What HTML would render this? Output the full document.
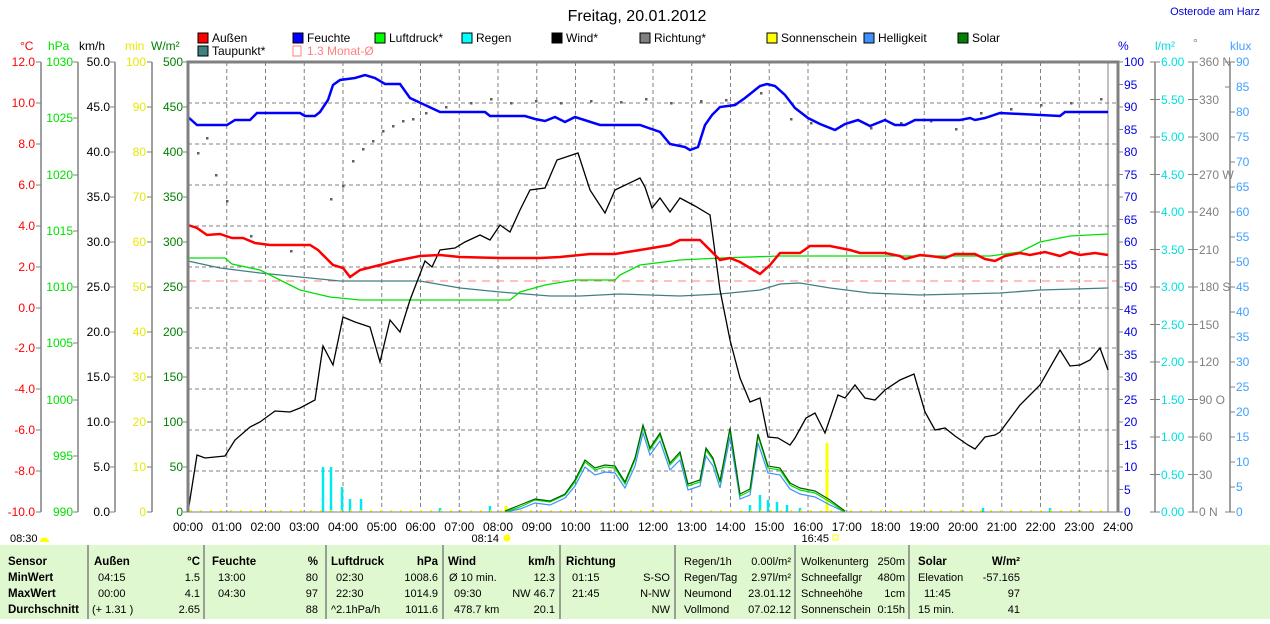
<!DOCTYPE html>
<html><head><meta charset="utf-8"><style>
body{margin:0;background:#fff;width:1270px;height:619px;overflow:hidden;font-family:"Liberation Sans",sans-serif}
svg text{font-family:"Liberation Sans",sans-serif}
</style></head><body>
<svg width="1270" height="619" viewBox="0 0 1270 619" xmlns="http://www.w3.org/2000/svg">
<rect width="1270" height="619" fill="#fff"/>
<text x="637" y="21" font-size="16" text-anchor="middle" fill="#000">Freitag, 20.01.2012</text>
<text x="1215" y="15" font-size="11" text-anchor="middle" fill="#0000e0">Osterode am Harz</text>
<g font-size="12">
<rect x="198" y="33" width="10" height="10" fill="#f00" stroke="#000"/><text x="212" y="42">Außen</text>
<rect x="293" y="33" width="10" height="10" fill="#00f" stroke="#000"/><text x="307" y="42">Feuchte</text>
<rect x="375" y="33" width="10" height="10" fill="#0f0" stroke="#000"/><text x="389" y="42">Luftdruck*</text>
<rect x="462" y="33" width="10" height="10" fill="#0ff" stroke="#000"/><text x="476" y="42">Regen</text>
<rect x="552" y="33" width="10" height="10" fill="#000" stroke="#000"/><text x="566" y="42">Wind*</text>
<rect x="640" y="33" width="10" height="10" fill="#808080" stroke="#000"/><text x="654" y="42">Richtung*</text>
<rect x="767" y="33" width="10" height="10" fill="#ff0" stroke="#000"/><text x="781" y="42">Sonnenschein</text>
<rect x="864" y="33" width="10" height="10" fill="#4090ff" stroke="#000"/><text x="878" y="42">Helligkeit</text>
<rect x="958" y="33" width="10" height="10" fill="#008000" stroke="#000"/><text x="972" y="42">Solar</text>
<rect x="198" y="46" width="10" height="10" fill="#408080" stroke="#000"/><text x="212" y="55">Taupunkt*</text>
<rect x="293" y="46" width="8" height="10" fill="none" stroke="#ff8080"/><text x="307" y="55" fill="#ff8080">1.3 Monat-Ø</text>
</g>
<g font-size="12">
<text x="20" y="50" fill="#f00">°C</text>
<text x="48" y="50" fill="#00e000">hPa</text>
<text x="79" y="50" fill="#000">km/h</text>
<text x="125" y="50" fill="#e8e800">min</text>
<text x="151" y="50" fill="#008000">W/m²</text>
<text x="1118" y="50" fill="#0000e0">%</text>
<text x="1155" y="50" fill="#00e0e0">l/m²</text>
<text x="1193" y="47" fill="#808080">°</text>
<text x="1230" y="50" fill="#40a0ff">klux</text>
</g>
<g stroke="#808080" stroke-width="1.5">
<line x1="41" y1="62" x2="41" y2="512"/><line x1="78" y1="62" x2="78" y2="512"/>
<line x1="115" y1="62" x2="115" y2="512"/><line x1="152" y1="62" x2="152" y2="512"/>
<line x1="1155" y1="62" x2="1155" y2="512"/><line x1="1193" y1="62" x2="1193" y2="512"/>
<line x1="1230" y1="62" x2="1230" y2="512"/>
</g>
<g font-size="12" fill="#f00" text-anchor="end">
<text x="35" y="66">12.0</text><text x="35" y="107">10.0</text><text x="35" y="148">8.0</text><text x="35" y="189">6.0</text><text x="35" y="230">4.0</text><text x="35" y="271">2.0</text><text x="35" y="312">0.0</text><text x="35" y="352">-2.0</text><text x="35" y="393">-4.0</text><text x="35" y="434">-6.0</text><text x="35" y="475">-8.0</text><text x="35" y="516">-10.0</text>
</g>
<g font-size="12" fill="#00e000" text-anchor="end">
<text x="73" y="66">1030</text><text x="73" y="122">1025</text><text x="73" y="179">1020</text><text x="73" y="235">1015</text><text x="73" y="291">1010</text><text x="73" y="347">1005</text><text x="73" y="404">1000</text><text x="73" y="460">995</text><text x="73" y="516">990</text>
</g>
<g font-size="12" fill="#000" text-anchor="end">
<text x="110" y="66">50.0</text><text x="110" y="111">45.0</text><text x="110" y="156">40.0</text><text x="110" y="201">35.0</text><text x="110" y="246">30.0</text><text x="110" y="291">25.0</text><text x="110" y="336">20.0</text><text x="110" y="381">15.0</text><text x="110" y="426">10.0</text><text x="110" y="471">5.0</text><text x="110" y="516">0.0</text>
</g>
<g font-size="12" fill="#e8e800" text-anchor="end">
<text x="146" y="66">100</text><text x="146" y="111">90</text><text x="146" y="156">80</text><text x="146" y="201">70</text><text x="146" y="246">60</text><text x="146" y="291">50</text><text x="146" y="336">40</text><text x="146" y="381">30</text><text x="146" y="426">20</text><text x="146" y="471">10</text><text x="146" y="516">0</text>
</g>
<g font-size="12" fill="#008000" text-anchor="end">
<text x="183" y="66">500</text><text x="183" y="111">450</text><text x="183" y="156">400</text><text x="183" y="201">350</text><text x="183" y="246">300</text><text x="183" y="291">250</text><text x="183" y="336">200</text><text x="183" y="381">150</text><text x="183" y="426">100</text><text x="183" y="471">50</text><text x="183" y="516">0</text>
</g>
<g stroke="#808080">
<path d="M36 62h5M36 103h5M36 144h5M36 185h5M36 226h5M36 267h5M36 308h5M36 348h5M36 389h5M36 430h5M36 471h5M36 512h5"/>
<path d="M73 62h5M73 118h5M73 175h5M73 231h5M73 287h5M73 343h5M73 400h5M73 456h5M73 512h5"/>
<path d="M110 62h5M110 107h5M110 152h5M110 197h5M110 242h5M110 287h5M110 332h5M110 377h5M110 422h5M110 467h5M110 512h5"/>
<path d="M147 62h5M147 107h5M147 152h5M147 197h5M147 242h5M147 287h5M147 332h5M147 377h5M147 422h5M147 467h5M147 512h5"/>
<path d="M183 62h5M183 107h5M183 152h5M183 197h5M183 242h5M183 287h5M183 332h5M183 377h5M183 422h5M183 467h5M183 512h5"/>
</g>
<g stroke="#808080"><path d="M1118 62h5M1118 84.5h5M1118 107h5M1118 129.5h5M1118 152h5M1118 174.5h5M1118 197h5M1118 219.5h5M1118 242h5M1118 264.5h5M1118 287h5M1118 309.5h5M1118 332h5M1118 354.5h5M1118 377h5M1118 399.5h5M1118 422h5M1118 444.5h5M1118 467h5M1118 489.5h5M1118 512h5"/>
<path d="M1150 62h10M1150 99.5h10M1150 137h10M1150 174.5h10M1150 212h10M1150 249.5h10M1150 287h10M1150 324.5h10M1150 362h10M1150 399.5h10M1150 437h10M1150 474.5h10M1150 512h10"/>
<path d="M1188 62h10M1188 99.5h10M1188 137h10M1188 174.5h10M1188 212h10M1188 249.5h10M1188 287h10M1188 324.5h10M1188 362h10M1188 399.5h10M1188 437h10M1188 474.5h10M1188 512h10"/>
<path d="M1225 62h10M1225 87h5M1230 112h5M1230 137h5M1230 162h5M1230 187h5M1230 212h5M1230 237h5M1230 262h5M1230 287h5M1230 312h5M1230 337h5M1230 362h5M1230 387h5M1230 412h5M1230 437h5M1230 462h5M1230 487h5M1225 512h10"/></g>
<g font-size="12" fill="#0000e0">
<text x="1124" y="66">100</text><text x="1124" y="89">95</text><text x="1124" y="111">90</text><text x="1124" y="134">85</text><text x="1124" y="156">80</text><text x="1124" y="179">75</text><text x="1124" y="201">70</text><text x="1124" y="224">65</text><text x="1124" y="246">60</text><text x="1124" y="269">55</text><text x="1124" y="291">50</text><text x="1124" y="314">45</text><text x="1124" y="336">40</text><text x="1124" y="359">35</text><text x="1124" y="381">30</text><text x="1124" y="404">25</text><text x="1124" y="426">20</text><text x="1124" y="449">15</text><text x="1124" y="471">10</text><text x="1124" y="494">5</text><text x="1124" y="516">0</text>
</g>
<g font-size="12" fill="#00e0e0">
<text x="1161" y="66">6.00</text><text x="1161" y="104">5.50</text><text x="1161" y="141">5.00</text><text x="1161" y="179">4.50</text><text x="1161" y="216">4.00</text><text x="1161" y="254">3.50</text><text x="1161" y="291">3.00</text><text x="1161" y="329">2.50</text><text x="1161" y="366">2.00</text><text x="1161" y="404">1.50</text><text x="1161" y="441">1.00</text><text x="1161" y="479">0.50</text><text x="1161" y="516">0.00</text>
</g>
<g font-size="12" fill="#808080">
<text x="1199" y="66">360 N</text><text x="1199" y="104">330</text><text x="1199" y="141">300</text><text x="1199" y="179">270 W</text><text x="1199" y="216">240</text><text x="1199" y="254">210</text><text x="1199" y="291">180 S</text><text x="1199" y="329">150</text><text x="1199" y="366">120</text><text x="1199" y="404">90  O</text><text x="1199" y="441">60</text><text x="1199" y="479">30</text><text x="1199" y="516">0   N</text>
</g>
<g font-size="12" fill="#40a0ff">
<text x="1236" y="66">90</text><text x="1236" y="91">85</text><text x="1236" y="116">80</text><text x="1236" y="141">75</text><text x="1236" y="166">70</text><text x="1236" y="191">65</text><text x="1236" y="216">60</text><text x="1236" y="241">55</text><text x="1236" y="266">50</text><text x="1236" y="291">45</text><text x="1236" y="316">40</text><text x="1236" y="341">35</text><text x="1236" y="366">30</text><text x="1236" y="391">25</text><text x="1236" y="416">20</text><text x="1236" y="441">15</text><text x="1236" y="466">10</text><text x="1236" y="491">5</text><text x="1236" y="516">0</text>
</g>
<g stroke="#808080" stroke-dasharray="4,3">
<path d="M188 103H1118M188 144H1118M188 185H1118M188 226H1118M188 267H1118M188 308H1118M188 348H1118M188 389H1118M188 430H1118M188 471H1118"/>
<path d="M226.75 62V512M265.5 62V512M304.25 62V512M343 62V512M381.75 62V512M420.5 62V512M459.25 62V512M498 62V512M536.75 62V512M575.5 62V512M614.25 62V512M653 62V512M691.75 62V512M730.5 62V512M769.25 62V512M808 62V512M846.75 62V512M885.5 62V512M924.25 62V512M963 62V512M1001.75 62V512M1040.5 62V512M1079.25 62V512"/>
</g>
<line x1="188" y1="281" x2="1118" y2="281" stroke="#ff8080" stroke-dasharray="8,6"/>
<line x1="1108" y1="62" x2="1108" y2="512" stroke="#808080"/>
<g stroke="#00e8f0" stroke-width="2.5">
<path d="M323 512V467M331 512V467M342 512V487M350 512V499M361 512V499M440 512V508M490 512V506M750 512V505M760 512V495M768 512V500M777 512V502M787 512V505M800 512V508M983 512V508M1050 512V508"/>
</g>
<line x1="827" y1="512" x2="827" y2="443" stroke="#ff0" stroke-width="3"/>
<line x1="506" y1="512" x2="506" y2="506" stroke="#ff0" stroke-width="3"/>
<line x1="190" y1="511" x2="1108" y2="511" stroke="#ff0" stroke-width="2" stroke-dasharray="2,8"/>
<g fill="#606060">
<rect x="197" y="152" width="2.5" height="2.5"/><rect x="206" y="137" width="2.5" height="2.5"/><rect x="215" y="174" width="2.5" height="2.5"/><rect x="226" y="200" width="2.5" height="2.5"/><rect x="250" y="235" width="2.5" height="2.5"/><rect x="290" y="250" width="2.5" height="2.5"/><rect x="330" y="198" width="2.5" height="2.5"/><rect x="342" y="185" width="2.5" height="2.5"/><rect x="352" y="160" width="2.5" height="2.5"/><rect x="362" y="148" width="2.5" height="2.5"/><rect x="372" y="140" width="2.5" height="2.5"/><rect x="382" y="130" width="2.5" height="2.5"/><rect x="392" y="125" width="2.5" height="2.5"/><rect x="402" y="120" width="2.5" height="2.5"/><rect x="412" y="118" width="2.5" height="2.5"/><rect x="425" y="112" width="2.5" height="2.5"/><rect x="445" y="106" width="2.5" height="2.5"/><rect x="470" y="102" width="2.5" height="2.5"/><rect x="490" y="98" width="2.5" height="2.5"/><rect x="510" y="102" width="2.5" height="2.5"/><rect x="535" y="100" width="2.5" height="2.5"/><rect x="560" y="102" width="2.5" height="2.5"/><rect x="590" y="100" width="2.5" height="2.5"/><rect x="620" y="101" width="2.5" height="2.5"/><rect x="645" y="98" width="2.5" height="2.5"/><rect x="670" y="102" width="2.5" height="2.5"/><rect x="700" y="100" width="2.5" height="2.5"/><rect x="725" y="99" width="2.5" height="2.5"/><rect x="760" y="92" width="2.5" height="2.5"/><rect x="790" y="118" width="2.5" height="2.5"/><rect x="810" y="122" width="2.5" height="2.5"/><rect x="840" y="125" width="2.5" height="2.5"/><rect x="870" y="127" width="2.5" height="2.5"/><rect x="900" y="122" width="2.5" height="2.5"/><rect x="930" y="120" width="2.5" height="2.5"/><rect x="955" y="128" width="2.5" height="2.5"/><rect x="980" y="112" width="2.5" height="2.5"/><rect x="1010" y="108" width="2.5" height="2.5"/><rect x="1040" y="104" width="2.5" height="2.5"/><rect x="1070" y="102" width="2.5" height="2.5"/><rect x="1100" y="98" width="2.5" height="2.5"/>
</g>
<polyline fill="none" stroke="#408080" stroke-width="1.3" points="188,261 220,268 260,273 300,277 340,281 380,281 420,281 460,288 500,292 550,296 580,296 620,294 680,296 720,294 760,290 780,284 800,283 830,288 870,293 920,295 1000,293 1040,290 1108,288"/>
<polyline fill="none" stroke="#00e000" stroke-width="1.3" points="188,258 225,258 232,264 260,270 280,280 300,290 330,297 360,300 400,300 510,300 520,292 545,285 575,280 615,280 620,275 640,265 680,260 720,258 780,256 990,256 1020,252 1040,242 1070,236 1108,234"/>
<polyline fill="none" stroke="#4090ff" stroke-width="1.2" points="505,512 520,509 535,503 550,505 565,498 575,486 585,467 595,475 605,472 615,473 625,488 635,466 643,433 650,455 660,441 670,470 680,460 688,490 700,486 706,456 713,466 720,488 730,437 740,499 750,495 758,443 768,473 780,475 790,489 800,494 815,497 830,505 845,512"/>
<polyline fill="none" stroke="#00e000" stroke-width="1.2" points="505,512 520,507 535,500 550,502 565,495 575,482 585,462 595,470 605,467 615,468 625,484 635,460 643,427 650,450 660,435 670,465 680,454 688,486 700,482 706,450 713,460 720,483 730,430 740,496 750,491 758,436 768,468 780,470 790,485 800,490 815,493 830,502 845,512"/>
<polyline fill="none" stroke="#006000" stroke-width="1.2" points="505,511 520,505 535,499 550,501 565,494 575,480 585,460 595,468 605,465 615,466 625,482 635,458 643,425 650,448 660,433 670,463 680,452 688,484 700,480 706,448 713,458 720,481 730,428 740,494 750,489 758,434 768,466 780,468 790,483 800,488 815,491 830,500 845,511"/>
<polyline fill="none" stroke="#000" stroke-width="1.3" points="188,512 197,455 205,458 215,457 225,456 235,440 250,427 260,422 275,411 290,412 300,408 315,400 323,346 333,365 343,317 355,322 370,327 380,362 390,320 400,332 410,300 425,261 432,267 440,250 455,248 465,242 480,235 490,240 500,225 510,232 520,210 530,190 545,188 557,160 578,153 590,190 605,213 615,190 640,178 645,187 652,208 660,198 670,212 680,198 695,206 710,215 720,290 730,340 740,378 750,402 760,398 768,437 778,438 790,445 795,438 806,418 815,413 825,433 838,395 845,398 855,385 865,398 875,400 885,390 900,380 914,374 925,412 935,430 945,428 955,436 968,445 975,449 985,437 995,435 1000,432 1020,405 1040,385 1060,350 1070,366 1080,365 1090,360 1100,348 1108,370"/>
<polyline fill="none" stroke="#f00" stroke-width="2.5" points="188,225 197,228 207,235 220,234 232,238 243,238 255,243 270,245 310,245 318,250 333,265 343,268 350,277 360,270 380,265 395,261 410,258 420,256 440,255 460,257 500,258 540,258 560,257 590,254 615,254 640,250 670,245 680,240 700,240 720,260 730,258 740,262 750,268 760,274 770,265 780,253 800,253 810,246 830,246 850,250 860,253 885,253 900,256 905,259 920,255 930,256 945,258 955,254 975,254 985,259 995,261 1005,256 1020,253 1030,255 1045,252 1060,256 1070,252 1080,255 1095,253 1108,255"/>
<polyline fill="none" stroke="#00f" stroke-width="2.5" points="188,117 197,125 227,125 235,120 250,120 257,113 300,113 305,116 315,116 320,112 328,100 333,85 340,80 355,78 365,75 375,78 385,84 400,84 410,98 425,105 440,112 485,112 490,116 525,116 535,119 545,121 555,117 565,122 575,117 600,125 640,125 660,132 670,144 685,147 690,150 698,147 705,125 712,115 720,107 735,105 745,98 760,86 767,84 775,86 785,95 795,108 808,118 820,124 835,130 845,124 858,120 870,126 885,120 895,125 905,125 915,120 960,120 970,118 975,120 985,118 1000,113 1060,116 1065,112 1108,112"/>
<path d="M188 512V62H1118V512" fill="none" stroke="#808080" stroke-width="3"/>
<line x1="188" y1="512" x2="1118" y2="512" stroke="#808080" stroke-width="1"/>
<g font-size="12" text-anchor="middle">
<text x="188" y="531">00:00</text><text x="226.75" y="531">01:00</text><text x="265.5" y="531">02:00</text><text x="304.25" y="531">03:00</text><text x="343" y="531">04:00</text><text x="381.75" y="531">05:00</text><text x="420.5" y="531">06:00</text><text x="459.25" y="531">07:00</text><text x="498" y="531">08:00</text><text x="536.75" y="531">09:00</text><text x="575.5" y="531">10:00</text><text x="614.25" y="531">11:00</text><text x="653" y="531">12:00</text><text x="691.75" y="531">13:00</text><text x="730.5" y="531">14:00</text><text x="769.25" y="531">15:00</text><text x="808" y="531">16:00</text><text x="846.75" y="531">17:00</text><text x="885.5" y="531">18:00</text><text x="924.25" y="531">19:00</text><text x="963" y="531">20:00</text><text x="1001.75" y="531">21:00</text><text x="1040.5" y="531">22:00</text><text x="1079.25" y="531">23:00</text><text x="1118" y="531">24:00</text>
</g>
<g font-size="11">
<text x="10" y="542">08:30</text><path d="M40 542a4.5 4.5 0 0 1 9 0z" fill="#ff0"/>
<text x="499" y="542" text-anchor="end">08:14</text><circle cx="507" cy="538" r="3.5" fill="#ff0"/>
<text x="829" y="542" text-anchor="end">16:45</text><rect x="833" y="535" width="5" height="5" fill="none" stroke="#ff0"/>
</g>
<rect x="0" y="545" width="1270" height="74" fill="#e0f8d0"/>
<g stroke="#808080" stroke-width="1.5"><path d="M88 545V619M204 545V619M326 545V619M443 545V619M560 545V619M675 545V619M795 545V619M909 545V619"/></g>
<g font-size="11.5" font-weight="bold">
<text x="8" y="565">Sensor</text><text x="8" y="581">MinWert</text><text x="8" y="597">MaxWert</text><text x="8" y="613">Durchschnitt</text>
<text x="94" y="565">Außen</text><text x="200" y="565" text-anchor="end">°C</text>
<text x="212" y="565">Feuchte</text><text x="318" y="565" text-anchor="end">%</text>
<text x="331" y="565">Luftdruck</text><text x="438" y="565" text-anchor="end">hPa</text>
<text x="448" y="565">Wind</text><text x="555" y="565" text-anchor="end">km/h</text>
<text x="566" y="565">Richtung</text>
<text x="918" y="565">Solar</text><text x="1020" y="565" text-anchor="end">W/m²</text>
</g>
<g font-size="11">
<text x="98" y="581">04:15</text><text x="200" y="581" text-anchor="end">1.5</text>
<text x="98" y="597">00:00</text><text x="200" y="597" text-anchor="end">4.1</text>
<text x="92" y="613">(+ 1.31 )</text><text x="200" y="613" text-anchor="end">2.65</text>
<text x="218" y="581">13:00</text><text x="318" y="581" text-anchor="end">80</text>
<text x="218" y="597">04:30</text><text x="318" y="597" text-anchor="end">97</text>
<text x="318" y="613" text-anchor="end">88</text>
<text x="336" y="581">02:30</text><text x="438" y="581" text-anchor="end">1008.6</text>
<text x="336" y="597">22:30</text><text x="438" y="597" text-anchor="end">1014.9</text>
<text x="331" y="613">^2.1hPa/h</text><text x="438" y="613" text-anchor="end">1011.6</text>
<text x="449" y="581">Ø 10 min.</text><text x="555" y="581" text-anchor="end">12.3</text>
<text x="454" y="597">09:30</text><text x="555" y="597" text-anchor="end">NW 46.7</text>
<text x="454" y="613">478.7 km</text><text x="555" y="613" text-anchor="end">20.1</text>
<text x="572" y="581">01:15</text><text x="670" y="581" text-anchor="end">S-SO</text>
<text x="572" y="597">21:45</text><text x="670" y="597" text-anchor="end">N-NW</text>
<text x="670" y="613" text-anchor="end">NW</text>
<text x="684" y="565">Regen/1h</text><text x="791" y="565" text-anchor="end">0.00l/m²</text>
<text x="684" y="581">Regen/Tag</text><text x="791" y="581" text-anchor="end">2.97l/m²</text>
<text x="684" y="597">Neumond</text><text x="791" y="597" text-anchor="end">23.01.12</text>
<text x="684" y="613">Vollmond</text><text x="791" y="613" text-anchor="end">07.02.12</text>
<text x="801" y="565">Wolkenunterg</text><text x="905" y="565" text-anchor="end">250m</text>
<text x="801" y="581">Schneefallgr</text><text x="905" y="581" text-anchor="end">480m</text>
<text x="801" y="597">Schneehöhe</text><text x="905" y="597" text-anchor="end">1cm</text>
<text x="801" y="613">Sonnenschein</text><text x="905" y="613" text-anchor="end">0:15h</text>
<text x="918" y="581">Elevation</text><text x="1020" y="581" text-anchor="end">-57.165</text>
<text x="924" y="597">11:45</text><text x="1020" y="597" text-anchor="end">97</text>
<text x="918" y="613">15 min.</text><text x="1020" y="613" text-anchor="end">41</text>
</g>
</svg>
</body></html>
